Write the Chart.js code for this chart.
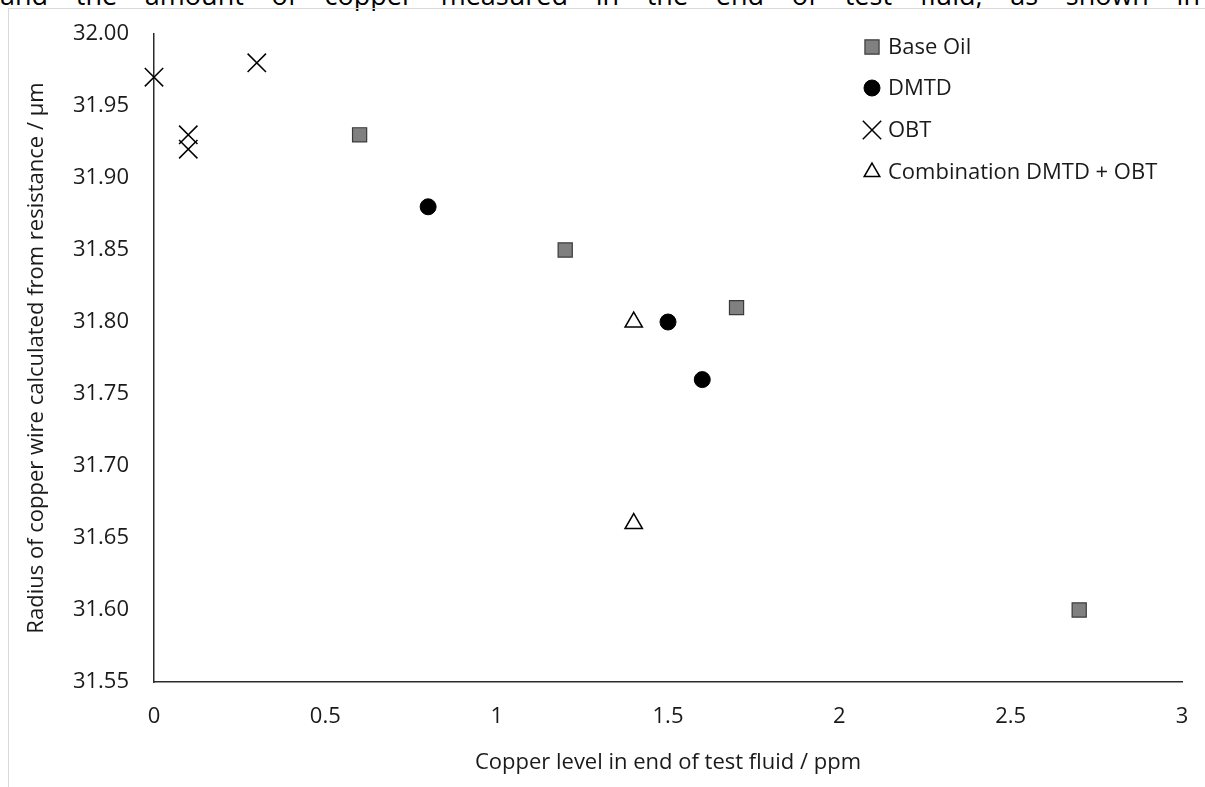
<!DOCTYPE html>
<html lang="en">
<head>
  <meta charset="UTF-8">
  <title>Copper wire radius vs copper level</title>
  <script src="https://cdn.jsdelivr.net/npm/chart.js"></script>
  <style>
    html, body {
      margin: 0;
      padding: 0;
      background: #ffffff;
      overflow: hidden;
    }
    .page {
      position: relative;
      width: 1205px;
      height: 787px;
      overflow: hidden;
    }
    .cut-text {
      position: absolute;
      left: 0;
      top: -21px;
      width: 1200px;
      font-family: "Open Sans", sans-serif;
      font-size: 27px;
      line-height: 32px;
      color: #000;
      text-align: justify;
      text-align-last: justify;
      height: 32px;
      overflow: hidden;
    }
    .frame {
      position: absolute;
      left: 8px;
      top: 8px;
      width: 1300px;
      height: 900px;
      border: 1px solid #d9d9d9;
    }
    .chart-box {
      position: absolute;
      left: 0;
      top: 0;
      width: 1205px;
      height: 787px;
    }
  </style>
</head>
<body>
  <div class="page">
    <div class="cut-text">and the amount of copper measured in the end of test fluid, as shown in</div>
    <div class="frame"></div>
    <div class="chart-box">
      <canvas id="scatterChart"></canvas>
    </div>
  </div>

  <script>
    // values
    const baseOilX = [0.6, 1.2, 1.7, 2.7];
    const baseOilY = [31.93, 31.85, 31.81, 31.60];

    const dmtdX = [0.8, 1.5, 1.6];
    const dmtdY = [31.88, 31.80, 31.76];

    const obtX = [0, 0.1, 0.1, 0.3];
    const obtY = [31.97, 31.93, 31.92, 31.98];

    const comboX = [1.4, 1.4];
    const comboY = [31.80, 31.66];

    const seriesLabels = ['Base Oil', 'DMTD', 'OBT', 'Combination DMTD + OBT'];
    const xTitle = 'Copper level in end of test fluid / ppm';
    const yTitle = 'Radius of copper wire calculated from resistance / μm';

    const FONT = '"Open Sans", sans-serif';
    const TEXT = '#1a1a1a';
    const AXIS = '#2b2b2b';

    function points(xs, ys) {
      return xs.map((x, i) => ({ x: x, y: ys[i] }));
    }

    // legend drawn inside the plot, top right
    const innerLegend = {
      id: 'innerLegend',
      afterDraw(chart) {
        const ctx = chart.ctx;
        const markerX = 872;
        const textX = 888;
        const rows = [47, 88, 130, 172];
        ctx.save();
        chart.data.datasets.forEach((ds, i) => {
          const y = rows[i];
          ctx.fillStyle = ds.backgroundColor;
          ctx.strokeStyle = ds.borderColor;
          ctx.lineWidth = ds.borderWidth;
          Chart.helpers.drawPoint(ctx, {
            pointStyle: ds.pointStyle,
            radius: ds.legendRadius,
            borderWidth: ds.borderWidth,
            rotation: 0
          }, markerX, y);
          ctx.fillStyle = TEXT;
          ctx.font = '22px ' + FONT;
          ctx.textAlign = 'left';
          ctx.textBaseline = 'middle';
          ctx.fillText(ds.label, textX, y + 1);
        });
        ctx.restore();
      }
    };

    const ctx = document.getElementById('scatterChart').getContext('2d');
    new Chart(ctx, {
      type: 'scatter',
      data: {
        datasets: [
          {
            label: seriesLabels[0],
            data: points(baseOilX, baseOilY),
            pointStyle: 'rect',
            pointRadius: 10,
            legendRadius: 10,
            backgroundColor: '#808080',
            borderColor: '#3a3a3a',
            borderWidth: 1.2,
            clip: false
          },
          {
            label: seriesLabels[1],
            data: points(dmtdX, dmtdY),
            pointStyle: 'circle',
            pointRadius: 8,
            legendRadius: 8,
            backgroundColor: '#000000',
            borderColor: '#000000',
            borderWidth: 1,
            clip: false
          },
          {
            label: seriesLabels[2],
            data: points(obtX, obtY),
            pointStyle: 'crossRot',
            pointRadius: 13,
            legendRadius: 13,
            backgroundColor: '#000000',
            borderColor: '#000000',
            borderWidth: 1.5,
            clip: false
          },
          {
            label: seriesLabels[3],
            data: points(comboX, comboY),
            pointStyle: 'triangle',
            pointRadius: 10,
            legendRadius: 9,
            backgroundColor: '#ffffff',
            borderColor: '#000000',
            borderWidth: 1.5,
            clip: false
          }
        ]
      },
      options: {
        responsive: true,
        maintainAspectRatio: false,
        animation: false,
        layout: {
          padding: { left: 0, right: 23, top: 34, bottom: 0 }
        },
        plugins: {
          legend: { display: false },
          tooltip: { enabled: false }
        },
        scales: {
          x: {
            type: 'linear',
            min: 0,
            max: 3,
            grid: { display: false, drawTicks: false },
            border: { display: true, color: AXIS, width: 1.5 },
            ticks: {
              stepSize: 0.5,
              padding: 22,
              color: TEXT,
              font: { family: FONT, size: 22 },
              callback: v => String(v)
            },
            title: {
              display: true,
              text: xTitle,
              color: TEXT,
              font: { family: FONT, size: 22 },
              padding: { top: 0, bottom: 11 }
            },
            afterFit(scale) {
              scale.height = 105;
              scale.paddingLeft = 0;
              scale.paddingRight = 0;
            }
          },
          y: {
            type: 'linear',
            min: 31.55,
            max: 32.00,
            grid: { display: false, drawTicks: false },
            border: { display: true, color: AXIS, width: 1.5 },
            ticks: {
              stepSize: 0.05,
              padding: 25,
              color: TEXT,
              font: { family: FONT, size: 22 },
              callback: v => Number(v).toFixed(2)
            },
            title: {
              display: true,
              text: yTitle,
              color: TEXT,
              font: { family: FONT, size: 22 },
              padding: { top: 24, bottom: 0 }
            },
            afterFit(scale) {
              scale.width = 154;
              scale.paddingTop = 0;
              scale.paddingBottom = 0;
            }
          }
        }
      },
      plugins: [innerLegend]
    });
  </script>
</body>
</html>
